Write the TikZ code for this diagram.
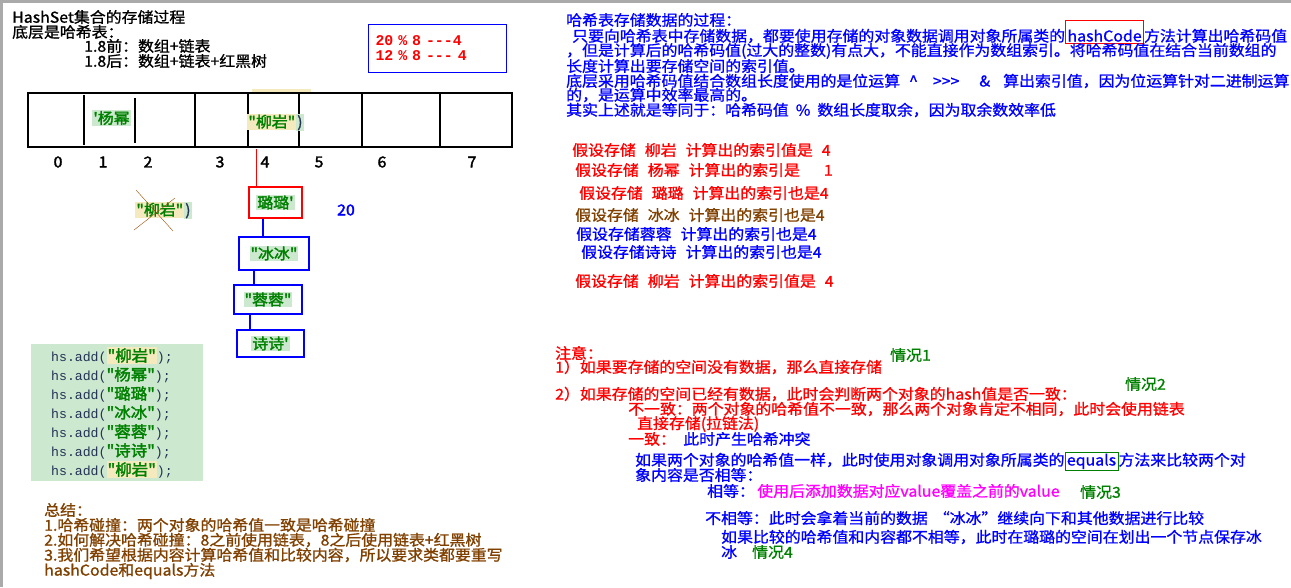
\documentclass[tikz,border=0pt]{standalone}
\usepackage{fontspec}
\newfontfamily\cjkfont{Noto Sans CJK SC}[FakeStretch=1.06, FakeBold=1.1, AutoFakeBold=2.2]
\newfontfamily\codefont{Liberation Mono}[Scale=0.85]
\usetikzlibrary{positioning}

\definecolor{hsred}{RGB}{255,0,0}
\definecolor{hsblue}{RGB}{0,0,255}
\definecolor{hsgreen}{RGB}{0,128,0}
\definecolor{hsbrown}{RGB}{128,64,0}
\definecolor{hsmagenta}{RGB}{255,0,255}
\definecolor{codebg}{RGB}{204,232,207}
\definecolor{hlcream}{RGB}{245,234,190}
\definecolor{codeink}{RGB}{35,50,85}
\definecolor{crossbrown}{RGB}{153,76,0}
\definecolor{framegray}{RGB}{170,170,170}

\setlength{\fboxsep}{1pt}
\newcommand{\namegreen}[1]{{\color{hsgreen}\bfseries #1}}
\newcommand{\addcall}[1]{{\codefont\color{codeink}hs.add(}#1{\codefont\color{codeink});}}

\begin{document}
\begin{tikzpicture}[x=1pt, y=-1pt,
    txt/.style={anchor=west, inner sep=0pt, font=\cjkfont\fontsize{15}{15}\selectfont},
    idx/.style={inner sep=0pt, font=\cjkfont\fontsize{15}{15}\selectfont\bfseries},
    chainbox/.style={draw, line width=1.2pt, inner sep=0pt, font=\cjkfont\fontsize{15}{15}\selectfont},
    cellline/.style={line width=1.2pt},
    link/.style={line width=1.2pt}]

    \useasboundingbox (0,0) rectangle (1291,587);
    \fill[framegray] (0,0) rectangle (1291,2.5);
    \fill[framegray] (0,0) rectangle (2.5,587);

    % Title
    \node[txt] (ttl) at (12,17) {HashSet集合的存储过程};
    \node[txt] (base) at (12,32) {底层是哈希表：};
    \node[txt] (pre18) at (84,46) {1.8前：数组+链表};
    \node[txt] (post18) at (84,61) {1.8后：数组+链表+红黑树};

    % Modulo box
    \node[draw=hsblue, line width=1pt, anchor=north west, minimum width=138pt, minimum height=48pt,
          text width=124pt, inner xsep=7pt, align=left, text=hsred,
          font=\fontsize{17.5}{15}\selectfont\codefont\bfseries] (mod) at (368,24)
          {20 \% 8 ---4\\12 \% 8 --- 4};

    % Array
    \fill[hlcream] (252,89) rectangle (311,93);
    \draw[cellline] (28,93) rectangle (512,147);
    \foreach \x in {195,248,299,362,440}
      \draw[cellline] (\x,93) -- (\x,147);
    \draw[cellline] (84,95) -- (84,145);
    \draw[cellline] (135,98) -- (135,143);
    \node[chainbox, draw=none] (ym) at (111.5,118)
          {\colorbox{codebg}{\namegreen{'杨幂}}};
    \node[chainbox, draw=none] (lyc) at (275.5,122.5)
          {\colorbox{hlcream}{\namegreen{"柳岩"}}\colorbox{codebg}{\color{codeink})}};
    \foreach \i/\x in {0/58,1/103,2/148,3/220,4/265,5/319,6/382,7/472}
      \node[idx] (i\i) at (\x,162) {\i};
    \coordinate (slot4) at (256,149);

    % Crossed out
    \node[chainbox, draw=none] (ly) at (163.5,210.5)
          {\colorbox{hlcream}{\namegreen{"柳岩"}}\colorbox{codebg}{\color{codeink})}};
    \draw[crossbrown] ([shift={(-27.5,-20.5)}]ly.center) -- ([shift={(9.5,20.5)}]ly.center);
    \draw[crossbrown] ([shift={(11.5,-12.5)}]ly.center) -- ([shift={(-29.5,19.5)}]ly.center);
    \node[idx, text=hsblue] (n20) at (346,210) {20};

    % Chain
    \node[chainbox, draw=hsred, minimum width=53pt, minimum height=31pt] (ll) at (275.5,202.5)
          {\colorbox{codebg}{\namegreen{璐璐'}}};
    \node[chainbox, draw=hsblue, minimum width=70pt, minimum height=33pt] (bb) at (274,253.5)
          {\colorbox{codebg}{\namegreen{"冰冰"}}};
    \node[chainbox, draw=hsblue, minimum width=68pt, minimum height=29pt] (rr) at (268,299.5)
          {\colorbox{codebg}{\namegreen{"蓉蓉"}}};
    \node[chainbox, draw=hsblue, minimum width=67pt, minimum height=27pt] (ss) at (270.5,343.5)
          {\colorbox{codebg}{\namegreen{诗诗'}}};
    \coordinate (l1) at ([xshift=-12.5pt]ll.south);
    \coordinate (l2) at ([xshift=-20pt]bb.south);
    \coordinate (l3) at ([xshift=-18pt]rr.south);
    \draw[link, hsred, line width=1pt] (slot4) -- (slot4 |- ll.north);
    \draw[link, hsblue] (l1) -- (l1 |- bb.north);
    \draw[link, hsblue] (l2) -- (l2 |- rr.north);
    \draw[link, hsblue] (l3) -- (l3 |- ss.north);

    % Code
    \node[fill=codebg, anchor=north west, minimum width=172pt, minimum height=137pt,
          text width=132pt, inner xsep=20pt, inner ysep=0pt, align=left,
          font=\cjkfont\fontsize{15.5}{19}\selectfont] (code) at (31,344)
          {\addcall{\colorbox{hlcream}{\namegreen{"柳岩"}}}\\
           \addcall{\namegreen{"杨幂"}}\\
           \addcall{\namegreen{"璐璐"}}\\
           \addcall{\namegreen{"冰冰"}}\\
           \addcall{\namegreen{"蓉蓉"}}\\
           \addcall{\namegreen{"诗诗"}}\\
           \addcall{\colorbox{hlcream}{\namegreen{"柳岩"}}}};

    % Summary
    \foreach \y/\t [count=\k] in {510/总结：,
        525/1.哈希碰撞：两个对象的哈希值一致是哈希碰撞,
        540/2.如何解决哈希碰撞：8之前使用链表，8之后使用链表+红黑树,
        555/3.我们希望根据内容计算哈希值和比较内容，所以要求类都要重写,
        571/hashCode和equals方法}
      \node[txt, text=hsbrown] (sum\k) at (44,\y) {\t};

    % Process
    \node[txt, text=hsblue] (r1) at (566,20) {哈希表存储数据的过程：};
    \node[txt, text=hsblue] (r2a) at (572,36) {只要向哈希表中存储数据，都要使用存储的对象数据调用对象所属类的};
    \node[txt, text=hsblue, draw=hsred, anchor=base west, inner xsep=2pt, text height=21pt, text depth=2pt]
          (hc) at (r2a.base east) {hashCode};
    \node[txt, text=hsblue, anchor=base west] (r2b) at (hc.base east) {方法计算出哈希码值};
    \node[txt, text=hsblue] (r3) at (566,51) {，但是计算后的哈希码值(过大的整数)有点大，不能直接作为数组索引。将哈希码值在结合当前数组的};
    \node[txt, text=hsblue] (r4) at (566,66) {长度计算出要存储空间的索引值。};
    \node[txt, text=hsblue] (r5) at (566,81)
          {底层采用哈希码值结合数组长度使用的是位运算\hspace{9pt}\textasciicircum\hspace{15pt}>>>\hspace{20pt}\&\hspace{13pt}算出索引值，因为位运算针对二进制运算};
    \node[txt, text=hsblue] (r6) at (566,95) {的，是运算中效率最高的。};
    \node[txt, text=hsblue] (r7) at (566,110) {其实上述就是等同于：哈希码值\hspace{7pt}\%\hspace{7pt}数组长度取余，因为取余数效率低};

    % Cases
    \foreach \x/\y/\c/\t [count=\k] in {
        572/150/hsred/{假设存储\hspace{9pt}柳岩\hspace{9pt}计算出的索引值是\hspace{9pt}4},
        575/170/hsred/{假设存储\hspace{9pt}杨幂\hspace{9pt}计算出的索引是\hspace{24pt}1},
        579/193/hsred/{假设存储\hspace{9pt}璐璐\hspace{9pt}计算出的索引也是4},
        575/215/hsbrown/{假设存储\hspace{9pt}冰冰\hspace{9pt}计算出的索引也是4},
        576/234/hsblue/{假设存储蓉蓉\hspace{9pt}计算出的索引也是4},
        581/252/hsblue/{假设存储诗诗\hspace{9pt}计算出的索引也是4},
        575/281/hsred/{假设存储\hspace{9pt}柳岩\hspace{9pt}计算出的索引值是\hspace{9pt}4}}
      \node[txt, text=\c] (g\k) at (\x,\y) {\t};

    % Notes
    \node[txt, text=hsred] (n0) at (555,353) {注意：};
    \node[txt, text=hsred] (n1) at (555,367) {1）如果要存储的空间没有数据，那么直接存储};
    \node[txt, text=hsred] (n2) at (555,394) {2）如果存储的空间已经有数据，此时会判断两个对象的hash值是否一致：};
    \node[txt, text=hsred] (n3) at (628,409) {不一致：两个对象的哈希值不一致，那么两个对象肯定不相同，此时会使用链表};
    \node[txt, text=hsred] (n4) at (637,424) {直接存储(拉链法)};
    \node[txt, text=hsred] (n5a) at (628,439) {一致：};
    \node[txt, text=hsblue, right=7pt of n5a] (n5b) {此时产生哈希冲突};
    \node[txt, text=hsblue] (n6a) at (635,460) {如果两个对象的哈希值一样，此时使用对象调用对象所属类的};
    \node[txt, text=hsblue, draw=hsgreen, anchor=base west, inner xsep=2pt, text height=13pt, text depth=5pt]
          (eq) at (n6a.base east) {equals};
    \node[txt, text=hsblue, anchor=base west] (n6b) at (eq.base east) {方法来比较两个对};
    \node[txt, text=hsblue] (n7) at (635,475) {象内容是否相等：};
    \node[txt, text=hsblue] (n8a) at (707,491) {相等：};
    \node[txt, text=hsmagenta, right=2pt of n8a] (n8b) {使用后添加数据对应value覆盖之前的value};
    \node[txt, text=hsblue] (n9) at (705,518) {不相等：此时会拿着当前的数据\hspace{6pt}“冰冰”继续向下和其他数据进行比较};
    \node[txt, text=hsblue] (n10) at (721,537) {如果比较的哈希值和内容都不相等，此时在璐璐的空间在划出一个节点保存冰};
    \node[txt, text=hsblue] (n11) at (721,552) {冰};

    \node[txt, text=hsgreen] (c1) at (890,355) {情况1};
    \node[txt, text=hsgreen] (c2) at (1125,384) {情况2};
    \node[txt, text=hsgreen] (c3) at (1080,492) {情况3};
    \node[txt, text=hsgreen] (c4) at (752,552) {情况4};

\end{tikzpicture}
\end{document}
